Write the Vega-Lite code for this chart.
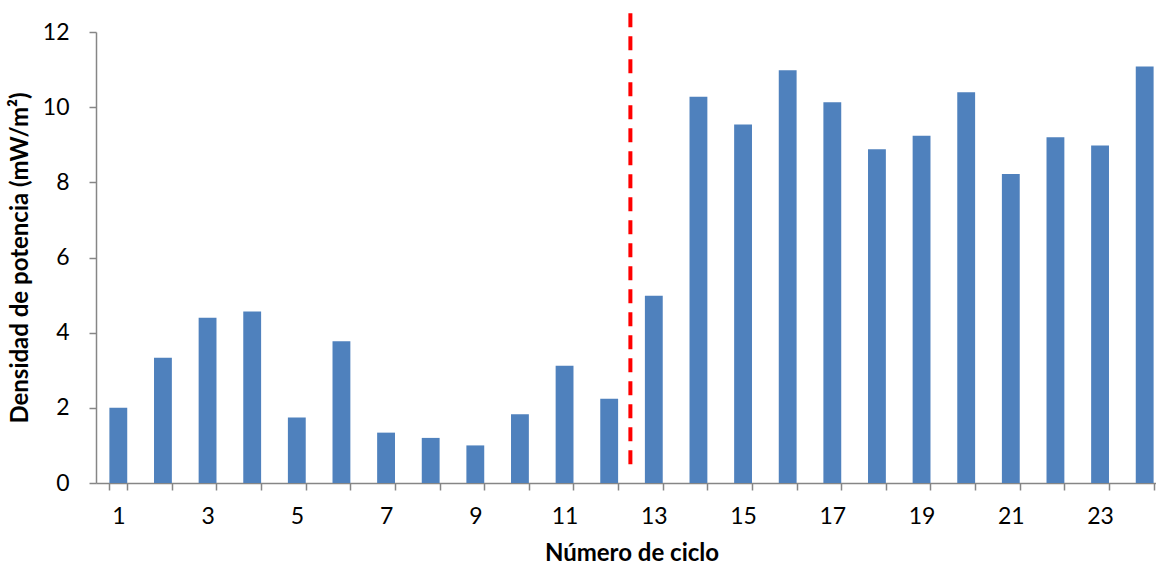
{
  "$schema": "https://vega.github.io/schema/vega-lite/v6.json",
  "autosize": {"type": "none"},
  "width": 1060,
  "height": 451,
  "padding": {"left": 96, "top": 32, "right": 0, "bottom": 83},
  "background": "white",
  "config": {
    "view": {"stroke": null},
    "font": "Lato",
    "axis": {"grid": false, "domainColor": "#868686", "tickColor": "#868686", "domainWidth": 1.5, "tickWidth": 1.5, "tickSize": 7, "labelColor": "#000000", "titleColor": "#000000", "labelFont": "Lato", "titleFont": "Lato", "labelFontSize": 23, "titleFontSize": 24, "titleFontWeight": "bold"}
  },
  "layer": [
    {
      "data": {"values": [
        {"ciclo": 1, "densidad": 2.0},
        {"ciclo": 2, "densidad": 3.33},
        {"ciclo": 3, "densidad": 4.4},
        {"ciclo": 4, "densidad": 4.56},
        {"ciclo": 5, "densidad": 1.74},
        {"ciclo": 6, "densidad": 3.77},
        {"ciclo": 7, "densidad": 1.34},
        {"ciclo": 8, "densidad": 1.2},
        {"ciclo": 9, "densidad": 1.0},
        {"ciclo": 10, "densidad": 1.83},
        {"ciclo": 11, "densidad": 3.12},
        {"ciclo": 12, "densidad": 2.24},
        {"ciclo": 13, "densidad": 4.98},
        {"ciclo": 14, "densidad": 10.28},
        {"ciclo": 15, "densidad": 9.54},
        {"ciclo": 16, "densidad": 10.98},
        {"ciclo": 17, "densidad": 10.13},
        {"ciclo": 18, "densidad": 8.88},
        {"ciclo": 19, "densidad": 9.24},
        {"ciclo": 20, "densidad": 10.4},
        {"ciclo": 21, "densidad": 8.22},
        {"ciclo": 22, "densidad": 9.2},
        {"ciclo": 23, "densidad": 8.98},
        {"ciclo": 24, "densidad": 11.08}
      ]},
      "mark": {"type": "bar", "color": "#4F81BD"},
      "encoding": {
        "x": {
          "field": "ciclo", "type": "ordinal",
          "scale": {"range": [0, 1071], "paddingInner": 0.6, "paddingOuter": 0.3},
          "axis": {
            "title": "Número de ciclo",
            "labelAngle": 0,
            "tickBand": "extent",
            "labelPadding": 15,
            "labelExpr": "datum.value % 2 == 1 ? datum.label : ''",
            "titleY": 70,
            "titleBaseline": "middle"
          }
        },
        "y": {
          "field": "densidad", "type": "quantitative",
          "scale": {"domain": [0, 12], "nice": false},
          "axis": {
            "title": "Densidad de potencia (mW/m²)",
            "values": [0, 2, 4, 6, 8, 10, 12],
            "labelPadding": 20,
            "titleX": -76,
            "titleBaseline": "middle"
          }
        }
      }
    },
    {
      "data": {"values": [{"ciclo": 13, "desde": 0.5, "hasta": 12.56}]},
      "mark": {"type": "rule", "color": "#FF0000", "strokeWidth": 4, "strokeDash": [14, 9], "xOffset": -14.5},
      "encoding": {
        "x": {"field": "ciclo", "type": "ordinal", "bandPosition": 0},
        "y": {"field": "desde", "type": "quantitative"},
        "y2": {"field": "hasta"}
      }
    }
  ]
}
